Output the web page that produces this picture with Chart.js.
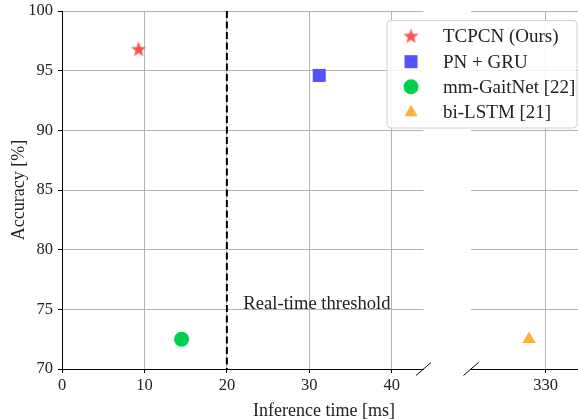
<!DOCTYPE html>
<html><head><meta charset="utf-8">
<script src="https://cdn.jsdelivr.net/npm/chart.js@4.4.1/dist/chart.umd.min.js"></script>
<style>
html,body{margin:0;padding:0;background:#fff;}
#wrap{position:relative;width:578px;height:419px;overflow:hidden;}
#wrap canvas{position:absolute;left:0;top:0;}
</style></head><body>
<div id="wrap"><canvas id="a" width="578" height="419"></canvas><canvas id="b" width="578" height="419"></canvas></div>
<script>
// ---- data ----
const methods = ['TCPCN (Ours)', 'PN + GRU', 'mm-GaitNet [22]', 'bi-LSTM [21]'];
const inferenceMs = [9.3, 31.2, 14.5, 328.0];
const accuracyPct = [96.8, 94.6, 72.5, 72.5];
const leftTicks = [0, 10, 20, 30, 40];
const rightTicks = [330];
const yTicks = [70, 75, 80, 85, 90, 95, 100];
const thresholdMs = 20;
const thresholdLabel = 'Real-time threshold';
const xTitle = 'Inference time [ms]';
const yTitle = 'Accuracy [%]';

// ---- style ----
const leftRange = [0, 43.85];
const rightRange = [321, 333.9];
const yRange = [70, 100];
const colors = ['#ff5252', '#5252ff', '#00d04c', '#ffb03c'];
const radii = [7.5, 9.2, 7.5, 7.7];
const FONT = "'Liberation Serif', 'Times New Roman', serif";
const GRID = '#b4b4b4';

function makeStar(color) {
  const c = document.createElement('canvas');
  c.width = 17; c.height = 17;
  const g = c.getContext('2d');
  g.fillStyle = color;
  g.beginPath();
  const cx = 8.5, cy = 9, R = 8, r = 3.3;
  for (let k = 0; k < 10; k++) {
    const rad = (k % 2 === 0) ? R : r;
    const a = -Math.PI / 2 + k * Math.PI / 5;
    const px = cx + rad * Math.cos(a), py = cy + rad * Math.sin(a);
    k === 0 ? g.moveTo(px, py) : g.lineTo(px, py);
  }
  g.closePath(); g.fill();
  return c;
}
const styles = [makeStar(colors[0]), 'rect', 'circle', 'triangle'];

function datasetsFor(range) {
  return methods.map((m, i) => ({
    label: m,
    data: (inferenceMs[i] >= range[0] && inferenceMs[i] <= range[1]) ? [{x: inferenceMs[i], y: accuracyPct[i]}] : [],
    pointStyle: styles[i],
    pointRadius: radii[i],
    pointHoverRadius: radii[i],
    backgroundColor: colors[i],
    borderColor: colors[i],
    pointBorderWidth: 0,
    clip: false
  }));
}

function breakMark(ctx, x, y) {
  ctx.save();
  ctx.strokeStyle = '#000'; ctx.lineWidth = 1;
  ctx.beginPath(); ctx.moveTo(x - 7.5, y + 6.5); ctx.lineTo(x + 7.5, y - 6.5); ctx.stroke();
  ctx.restore();
}

const decorA = {
  id: 'decorA',
  beforeDatasetsDraw(chart) {
    const ctx = chart.ctx, ca = chart.chartArea, xs = chart.scales.x, ys = chart.scales.y;
    const px = xs.getPixelForValue(thresholdMs);
    ctx.save();
    ctx.strokeStyle = '#000'; ctx.lineWidth = 2; ctx.setLineDash([7, 3.5]);
    ctx.beginPath(); ctx.moveTo(px, ca.top); ctx.lineTo(px, ca.bottom); ctx.stroke();
    ctx.setLineDash([]);
    ctx.fillStyle = '#222'; ctx.font = '18.6px ' + FONT;
    ctx.textAlign = 'left'; ctx.textBaseline = 'middle';
    ctx.fillText(thresholdLabel, xs.getPixelForValue(22), ys.getPixelForValue(75.45));
    ctx.restore();
  },
  afterDraw(chart) {
    const ctx = chart.ctx, ca = chart.chartArea;
    breakMark(ctx, ca.right, ca.bottom);
    ctx.save();
    ctx.fillStyle = '#222'; ctx.font = '18px ' + FONT;
    ctx.textAlign = 'center'; ctx.textBaseline = 'middle';
    ctx.fillText(xTitle, 324, 411);
    ctx.translate(19, 190); ctx.rotate(-Math.PI / 2);
    ctx.fillText(yTitle, 0, 0);
    ctx.restore();
  }
};

function drawMarker(ctx, style, r, x, y, color) {
  ctx.save();
  ctx.fillStyle = color;
  if (typeof style !== 'string') { ctx.drawImage(style, x - style.width / 2, y - style.height / 2); ctx.restore(); return; }
  ctx.beginPath();
  if (style === 'rect') { const s = Math.SQRT1_2 * r; ctx.rect(x - s, y - s, 2 * s, 2 * s); }
  else if (style === 'circle') { ctx.arc(x, y, r, 0, Math.PI * 2); }
  else if (style === 'triangle') {
    ctx.moveTo(x, y - r);
    ctx.lineTo(x + Math.sin(2 * Math.PI / 3) * r, y - Math.cos(2 * Math.PI / 3) * r);
    ctx.lineTo(x + Math.sin(4 * Math.PI / 3) * r, y - Math.cos(4 * Math.PI / 3) * r);
    ctx.closePath();
  }
  ctx.fill();
  ctx.restore();
}

const decorB = {
  id: 'decorB',
  afterDraw(chart) {
    const ctx = chart.ctx, ca = chart.chartArea;
    breakMark(ctx, ca.left, ca.bottom);
    // legend
    const bx = 387, by = 20.5, bw = 190, bh = 107.5, rr = 4;
    ctx.save();
    ctx.beginPath();
    ctx.moveTo(bx + rr, by); ctx.lineTo(bx + bw - rr, by); ctx.arcTo(bx + bw, by, bx + bw, by + rr, rr);
    ctx.lineTo(bx + bw, by + bh - rr); ctx.arcTo(bx + bw, by + bh, bx + bw - rr, by + bh, rr);
    ctx.lineTo(bx + rr, by + bh); ctx.arcTo(bx, by + bh, bx, by + bh - rr, rr);
    ctx.lineTo(bx, by + rr); ctx.arcTo(bx, by, bx + rr, by, rr); ctx.closePath();
    ctx.fillStyle = 'rgba(255,255,255,0.85)'; ctx.fill();
    ctx.strokeStyle = '#d0d0d0'; ctx.lineWidth = 1; ctx.stroke();
    const rows = [36, 61.7, 86.7, 112.5];
    ctx.font = '19px ' + FONT; ctx.textAlign = 'left'; ctx.textBaseline = 'middle';
    methods.forEach((m, i) => {
      drawMarker(ctx, styles[i], radii[i], 411, rows[i], colors[i]);
      ctx.fillStyle = '#222';
      ctx.fillText(m, 443, rows[i] + 1);
    });
    ctx.restore();
  }
};

const tickFont = {family: FONT, size: 16.5};

function xScale(range, ticksArr) {
  return {
    type: 'linear', position: 'bottom', min: range[0], max: range[1],
    afterBuildTicks: s => { s.ticks = ticksArr.map(v => ({value: v})); },
    afterFit: s => { s.height = 50; s.paddingLeft = 0; s.paddingRight = 0; s.paddingTop = 0; s.paddingBottom = 0; },
    grid: {color: GRID, lineWidth: 1, tickColor: '#000', tickLength: 4, tickWidth: 1},
    border: {color: '#000', width: 1},
    ticks: {color: '#222', font: tickFont, padding: 3, maxRotation: 0, autoSkip: false}
  };
}

Chart.defaults.animation = false;
Chart.defaults.font.family = FONT;

new Chart(document.getElementById('a'), {
  type: 'scatter',
  data: {datasets: datasetsFor(leftRange)},
  options: {
    responsive: false, animation: false, devicePixelRatio: 1,
    layout: {autoPadding: false, padding: {top: 11, right: 154.5, bottom: 0, left: 0}},
    plugins: {legend: {display: false}, tooltip: {enabled: false}},
    scales: {
      x: xScale(leftRange, leftTicks),
      y: {
        type: 'linear', min: yRange[0], max: yRange[1],
        afterBuildTicks: s => { s.ticks = yTicks.map(v => ({value: v})); },
        afterFit: s => { s.width = 62; s.paddingTop = 0; s.paddingBottom = 0; s.paddingLeft = 0; s.paddingRight = 0; },
        grid: {color: GRID, lineWidth: 1, tickColor: '#000', tickLength: 4, tickWidth: 1},
        border: {color: '#000', width: 1},
        ticks: {color: '#222', font: tickFont, padding: 5}
      }
    }
  },
  plugins: [decorA]
});

new Chart(document.getElementById('b'), {
  type: 'scatter',
  data: {datasets: datasetsFor(rightRange)},
  options: {
    responsive: false, animation: false, devicePixelRatio: 1,
    layout: {autoPadding: false, padding: {top: 11, right: 0, bottom: 0, left: 471}},
    plugins: {legend: {display: false}, tooltip: {enabled: false}},
    scales: {
      x: xScale(rightRange, rightTicks),
      y: {
        type: 'linear', min: yRange[0], max: yRange[1],
        afterBuildTicks: s => { s.ticks = yTicks.map(v => ({value: v})); },
        afterFit: s => { s.width = 0; s.paddingTop = 0; s.paddingBottom = 0; s.paddingLeft = 0; s.paddingRight = 0; },
        grid: {color: GRID, lineWidth: 1, drawTicks: false},
        border: {display: false},
        ticks: {display: false}
      }
    }
  },
  plugins: [decorB]
});
</script>
</body></html>
